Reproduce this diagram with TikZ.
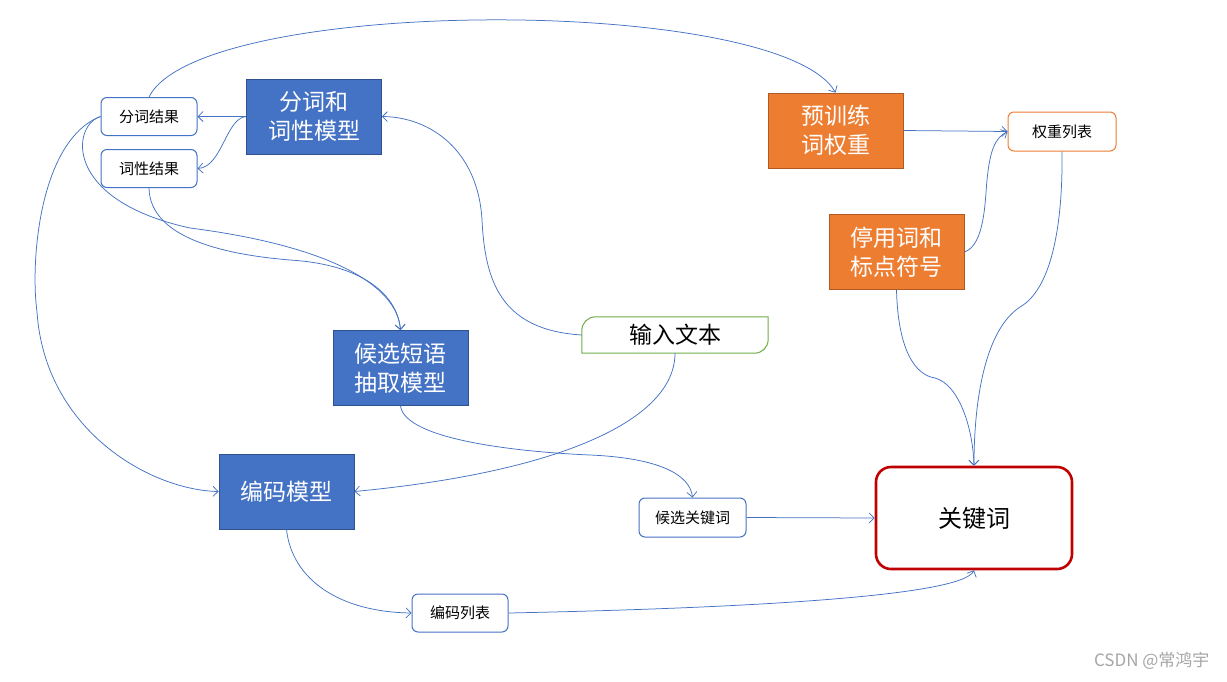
\documentclass[tikz,border=0pt]{standalone}
\usepackage{fontspec}
\setmainfont{Noto Sans CJK SC}
\usetikzlibrary{arrows.meta}
\definecolor{bfill}{HTML}{4472C4}
\definecolor{bdraw}{HTML}{2F528F}
\definecolor{ofill}{HTML}{ED7D31}
\definecolor{odraw}{HTML}{AE5A21}
\definecolor{gdraw}{HTML}{70AD47}
\definecolor{rdraw}{HTML}{C00000}
\definecolor{edgec}{HTML}{4472C4}
\definecolor{wmark}{HTML}{A6A6A6}
\begin{document}
\begin{tikzpicture}[x=1pt,y=-1pt,
  bigtext/.style={font=\fontsize{23}{29}\selectfont, align=center},
  bluebox/.style={bigtext, draw=bdraw, fill=bfill, line width=0.8pt, text=white,
    minimum width=135pt, minimum height=75pt, inner sep=0pt},
  orangebox/.style={bigtext, draw=odraw, fill=ofill, line width=0.8pt, text=white,
    minimum width=135pt, minimum height=75pt, inner sep=0pt},
  smallbox/.style={draw=edgec, fill=white, line width=1pt, rounded corners=6pt,
    font=\fontsize{15}{18}\selectfont, minimum width=96pt, minimum height=38pt, inner sep=0pt},
  orangesmall/.style={smallbox, draw=ofill, minimum width=108pt, minimum height=39pt},
  keybox/.style={draw=rdraw, fill=white, line width=2.6pt, rounded corners=15pt,
    font=\fontsize{24}{28}\selectfont, minimum width=196pt, minimum height=102pt, inner sep=0pt},
  inputbox/.style={bigtext, minimum width=186pt, minimum height=36pt, inner sep=0pt},
  conn/.style={draw=edgec, line width=0.75pt, -{Straight Barb[length=5pt,width=10pt]}},
]
\fill[white] (0,0) rectangle (1227,681);
\useasboundingbox (0,0) rectangle (1227,681);

% nodes
\node[smallbox] (fr) at (149,116.5) {分词结果};
\node[smallbox] (cx) at (149,168.5) {词性结果};
\node[bluebox] (fc) at (314,116.5) {分词和\\词性模型};
\node[orangebox] (yx) at (835.5,130.5) {预训练\\词权重};
\node[orangesmall] (qz) at (1062,131.5) {权重列表};
\node[orangebox] (ty) at (896.5,252) {停用词和\\标点符号};
\node[bluebox] (hx) at (400.5,368) {候选短语\\抽取模型};
\node[inputbox] (in) at (675,335) {输入文本};
\draw[draw=gdraw, line width=1pt]
  (in.south west) -- ([yshift=-14pt]in.north west)
  .. controls ([yshift=-6pt]in.north west) and ([xshift=6pt]in.north west) .. ([xshift=14pt]in.north west)
  -- (in.north east) -- ([yshift=14pt]in.south east)
  .. controls ([yshift=6pt]in.south east) and ([xshift=-6pt]in.south east) .. ([xshift=-14pt]in.south east)
  -- cycle;
\node[smallbox, minimum width=107pt, minimum height=39pt] (hk) at (692.5,517.5) {候选关键词};
\node[bluebox] (bm) at (286.5,491.5) {编码模型};
\node[smallbox] (bl) at (460,613) {编码列表};
\node[keybox] (kw) at (974,518) {关键词};
\node[text=wmark, font=\fontsize{17}{20}\selectfont, anchor=east] (wm) at (1213,661) {CSDN @常鸿宇};

% connectors
\draw[conn] (fc.west) -- (fr.east);
\draw[conn] (fc.west) .. controls (226,118) and (222,167) .. (cx.east);
\draw[conn] (fr.north) .. controls (200,-5) and (780,-5) .. (yx.north);
\draw[conn] (fr.west) .. controls (72,125) and (62,200) .. (190,228)
  .. controls (330,246) and (397,285) .. (hx.north);
\draw[conn] (cx.south) .. controls (150,240) and (230,255) .. (290,260)
  .. controls (370,265) and (398,300) .. (hx.north);
\draw[conn] (fr.west) .. controls (40,140) and (30,260) .. (37,312)
  .. controls (45,430) and (150,490) .. (bm.west);
\draw[conn] (in.west) .. controls (500,330) and (485,280) .. (482,220)
  .. controls (478,150) and (430,117) .. (fc.east);
\draw[conn] (in.south) .. controls (675,420) and (560,472) .. (bm.east);
\draw[conn] (hx.south) .. controls (405,440) and (520,452) .. (590,455)
  .. controls (660,458) and (690,475) .. (hk.north);
\draw[conn] (hk.east) -- (kw.west);
\draw[conn] (bm.south) .. controls (292,580) and (340,612) .. (bl.west);
\draw[conn] (bl.east) .. controls (750,608) and (962,596) .. (kw.south);
\draw[conn] (yx.east) -- (qz.west);
\draw[conn] (ty.east) .. controls (985,245) and (985,200) .. (987,180)
  .. controls (990,150) and (995,138) .. (qz.west);
\draw[conn] (ty.south) .. controls (898,350) and (915,375) .. (935,378)
  .. controls (960,385) and (973,430) .. (kw.north);
\draw[conn] (qz.south) .. controls (1063,230) and (1050,290) .. (1020,307)
  .. controls (985,330) and (974,400) .. (kw.north);
\end{tikzpicture}
\end{document}
